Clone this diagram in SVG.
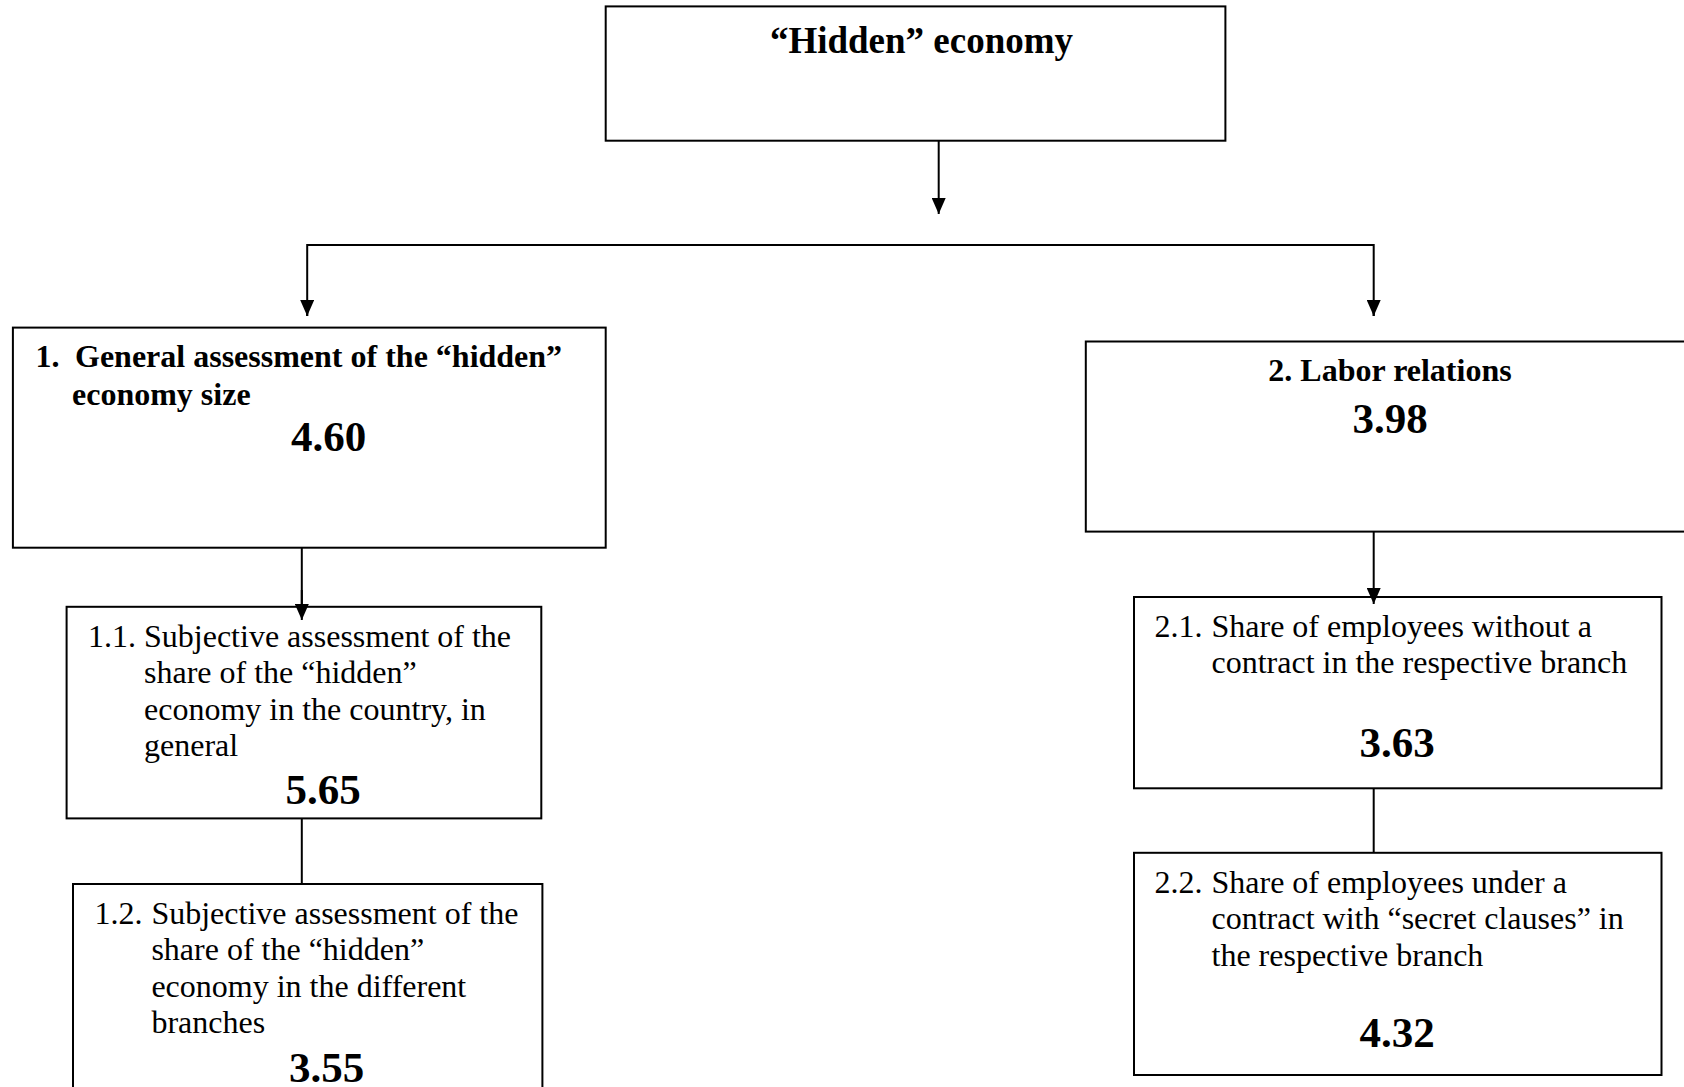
<svg xmlns="http://www.w3.org/2000/svg" width="1684" height="1087" viewBox="0 0 1684 1087">
<style>
.box{fill:#fff;stroke:#000;stroke-width:2}
.ln{fill:none;stroke:#000;stroke-width:2}
.t{font-family:"Liberation Serif","Times New Roman",serif;font-size:32px;fill:#000}
.b{font-weight:bold}
.num{font-family:"Liberation Serif","Times New Roman",serif;font-size:43px;font-weight:bold;fill:#000;text-anchor:middle}
.title{font-family:"Liberation Serif","Times New Roman",serif;font-size:37px;font-weight:bold;fill:#000;text-anchor:middle}
</style>
<defs>
<marker id="arr" viewBox="0 0 16 14" refX="16" refY="7" markerWidth="16" markerHeight="14" markerUnits="userSpaceOnUse" orient="auto">
<path d="M0,0 L16,7 L0,14 z" fill="#000"/>
</marker>
</defs>
<rect width="1684" height="1087" fill="#fff"/>

<g id="connectors">
<line class="ln" x1="938.7" y1="137" x2="938.7" y2="214" marker-end="url(#arr)"/>
<polyline class="ln" points="307.2,316 307.2,245 1373.7,245 1373.7,316" />
<line class="ln" x1="307.2" y1="300" x2="307.2" y2="316" marker-end="url(#arr)"/>
<line class="ln" x1="1373.7" y1="300" x2="1373.7" y2="316" marker-end="url(#arr)"/>
<line class="ln" x1="301.8" y1="547.7" x2="301.8" y2="620" />
<line class="ln" x1="1373.7" y1="531.6" x2="1373.7" y2="604" />
<line class="ln" x1="301.8" y1="818.4" x2="301.8" y2="884" />
<line class="ln" x1="1373.7" y1="788.3" x2="1373.7" y2="852.8" />
</g>

<g id="node-top">
<rect class="box" x="605.7" y="6.4" width="619.7" height="134.3"/>
<text class="title" x="921.5" y="53">“Hidden” economy</text>
</g>

<g id="node-1">
<rect class="box" x="12.9" y="327.6" width="592.8" height="220.1"/>
<text class="t b" x="35.4" y="367">1.</text>
<text class="t b" x="75" y="367">General assessment of the “hidden”</text>
<text class="t b" x="72" y="405">economy size</text>
<text class="num" x="328.6" y="451">4.60</text>
</g>

<g id="node-2">
<rect class="box" x="1085.8" y="341.5" width="610" height="190.1"/>
<text class="t b" x="1390" y="381" text-anchor="middle">2. Labor relations</text>
<text class="num" x="1390" y="433">3.98</text>
</g>

<g id="node-1-1">
<rect class="box" x="66.6" y="606.8" width="474.7" height="211.6"/>
<text class="t" x="88" y="646.5">1.1.</text>
<text class="t" x="144" y="646.5">Subjective assessment of the</text>
<text class="t" x="144" y="683">share of the “hidden”</text>
<text class="t" x="144" y="719.6">economy in the country, in</text>
<text class="t" x="144" y="756">general</text>
<text class="num" x="323" y="803.5">5.65</text>
</g>

<g id="node-1-2">
<rect class="box" x="73" y="884" width="469.4" height="220"/>
<text class="t" x="94.5" y="923.6">1.2.</text>
<text class="t" x="151.4" y="923.6">Subjective assessment of the</text>
<text class="t" x="151.4" y="960">share of the “hidden”</text>
<text class="t" x="151.4" y="996.7">economy in the different</text>
<text class="t" x="151.4" y="1033">branches</text>
<text class="num" x="326.5" y="1081.5">3.55</text>
</g>

<g id="node-2-1">
<rect class="box" x="1134" y="597" width="527.5" height="191.3"/>
<text class="t" x="1154.6" y="637">2.1.</text>
<text class="t" x="1211.5" y="637">Share of employees without a</text>
<text class="t" x="1211.5" y="673.4">contract in the respective branch</text>
<text class="num" x="1397" y="757">3.63</text>
</g>

<g id="node-2-2">
<rect class="box" x="1134" y="852.8" width="527.5" height="222.2"/>
<text class="t" x="1154.6" y="892.5">2.2.</text>
<text class="t" x="1211.5" y="892.5">Share of employees under a</text>
<text class="t" x="1211.5" y="929">contract with “secret clauses” in</text>
<text class="t" x="1211.5" y="965.5">the respective branch</text>
<text class="num" x="1397" y="1047">4.32</text>
</g>
<line class="ln" x1="301.8" y1="590" x2="301.8" y2="620" marker-end="url(#arr)"/>
<line class="ln" x1="1373.7" y1="590" x2="1373.7" y2="604" marker-end="url(#arr)"/>
</svg>
